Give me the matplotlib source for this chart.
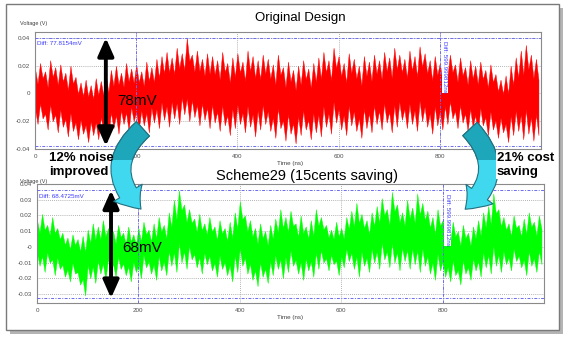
import numpy as np
import matplotlib.pyplot as plt
from matplotlib.patches import Rectangle, FancyArrowPatch

plt.rcParams['font.family'] = ['Liberation Sans', 'DejaVu Sans']

W, H = 575, 340

time_ns = np.arange(0, 1000, 10)
orig_hi = [18, 22, 16, 24, 19, 21, 15, 20, 12,
           8, 10, 6, 11, 9, 13,
           17, 20, 15, 22, 18, 21, 16, 23, 19, 25, 27,
           30, 26, 33, 29, 40, 28, 31, 25, 29,
           27, 24, 30, 22, 26, 29, 23, 31, 27, 24, 28,
           25, 21, 28, 19, 23, 17, 20, 24, 18, 22, 26,
           30, 24, 33, 27, 22, 29, 25, 20, 27, 23, 28,
           24, 30, 26, 33, 28, 25, 31, 27, 34, 29, 24, 27, 22,
           25, 28, 21, 26, 19, 24, 20, 23, 17, 21,
           14, 10, 13, 20, 26, 31, 35, 28, 25]
orig_lo = [-22, -18, -26, -20, -28, -24, -31, -27, -33,
           -29, -35, -30, -33, -27, -31,
           -25, -29, -22, -27, -20, -26, -23, -28, -21, -25, -19,
           -24, -18, -22, -15, -20, -17, -23, -19, -25,
           -21, -27, -23, -30, -25, -22, -28, -24, -31, -26, -22,
           -27, -32, -25, -34, -29, -36, -30, -26, -33, -28, -31,
           -24, -29, -21, -26, -30, -23, -27, -32, -25, -28, -22,
           -26, -21, -28, -24, -19, -25, -22, -27, -20, -24, -29, -23, -26,
           -22, -18, -25, -21, -27, -24, -29, -23, -30, -26,
           -32, -28, -35, -30, -27, -33, -29, -34, -30]
new_hi = [17, 21, 14, 19, 12, 9, 6, 8, 5,
          7, 11, 15, 13, 17, 12,
          10, 14, 9, 13, 8, 12, 16, 11, 15, 19, 14,
          22, 30, 36, 27, 24, 18, 21, 15, 19,
          13, 17, 12, 16, 22, 29, 20, 17, 12, 15, 10,
          14, 18, 24, 19, 23, 15, 20, 13, 17, 24, 19,
          14, 11, 16, 12, 19, 23, 28, 21, 17, 22, 26,
          31, 24, 35, 27, 22, 30, 25, 34, 28, 23, 19, 24, 17,
          12, 16, 10, 14, 9, 13, 17, 22, 26, 34,
          24, 19, 15, 20, 14, 18, 22, 16, 20]
new_lo = [-12, -16, -10, -18, -14, -19, -22, -17, -24,
          -31, -20, -23, -17, -21, -15,
          -19, -14, -18, -22, -16, -20, -13, -17, -21, -15, -18,
          -12, -16, -10, -14, -8, -13, -17, -11, -15,
          -19, -14, -18, -22, -16, -12, -17, -21, -25, -19, -23,
          -18, -14, -20, -16, -12, -17, -21, -15, -19, -14, -10,
          -15, -11, -18, -13, -9, -14, -19, -12, -16, -10, -14,
          -8, -13, -10, -15, -9, -14, -11, -16, -12, -17, -21, -15, -19,
          -22, -18, -24, -17, -21, -15, -19, -13, -17, -12,
          -16, -11, -15, -9, -13, -18, -12, -16, -11]

cursor_t = [200, 800]
orig_cursor_v = [0.0400, -0.0378]
new_cursor_v = [0.0359, -0.0326]
orig_yticks = [-0.04, -0.02, 0, 0.02, 0.04]
orig_yticklabels = ['-0.04', '-0.02', '0', '0.02', '0.04']
new_yticks = [-0.03, -0.02, -0.01, 0, 0.01, 0.02, 0.03, 0.04]
new_yticklabels = ['-0.03', '-0.02', '-0.01', '-0', '0.01', '0.02', '0.03', '0.04']
xticks = [0, 200, 400, 600, 800]


def px_rect(l, t, r, b):
    return [l / W, 1 - b / H, (r - l) / W, (b - t) / H]


def draw_panel(ax, hi, lo, color, ylim, yticks, yticklabels, cursor_v, diff_txt, arrow_t, amp_txt, amp_y):
    hi = np.array(hi) / 1000
    lo = np.array(lo) / 1000
    mid = (hi + lo) / 2
    half = (hi - lo) / 2
    # spiky edges: peaks at the envelope, troughs part way in
    xs = np.column_stack([time_ns, time_ns + 5]).ravel()
    top = np.column_stack([hi, mid + 0.45 * half]).ravel()
    bot = np.column_stack([mid - 0.45 * half, lo]).ravel()
    ax.fill_between(xs, bot, top, color=color, lw=0.3, edgecolor=color, zorder=2)

    ax.set_xlim(0, 1000)
    ax.set_ylim(*ylim)
    ax.set_xticks(xticks)
    ax.set_xticklabels([str(x) for x in xticks])
    ax.set_yticks(yticks)
    ax.set_yticklabels(yticklabels)
    ax.tick_params(length=0, labelsize=4.5, labelcolor='#505050', pad=3.5)
    ax.grid(True, color='#9a9a9a', ls=(0, (1, 1.5)), lw=0.6, zorder=1)
    ax.set_axisbelow(True)
    for s in ax.spines.values():
        s.set_color('#8a8a8a')
        s.set_linewidth(0.8)

    blue = '#6b6bf0'
    for t in cursor_t:
        ax.axvline(t, color=blue, ls=(0, (3, 1.5, 1, 1.5)), lw=0.7, zorder=3)
    for v in cursor_v:
        ax.axhline(v, color=blue, ls=(0, (3, 1.5, 1, 1.5)), lw=0.7, zorder=3)

    ax.text(4, cursor_v[0] - 0.002, diff_txt, fontsize=4.5, color='#3a3aff', va='top', ha='left', zorder=4)
    ax.text(cursor_t[1] + 10, cursor_v[0] - 0.002, 'Diff: 599.999812ns', fontsize=4.5, color='#3a3aff',
            rotation=-90, va='top', ha='center', zorder=4,
            bbox=dict(fc='white', ec='none', pad=0.6))

    ax.annotate('', xy=(arrow_t, cursor_v[1]), xytext=(arrow_t, cursor_v[0]),
                arrowprops=dict(arrowstyle='<|-|>,head_width=0.4,head_length=0.9', lw=2.8,
                                color='black', shrinkA=0, shrinkB=0, mutation_scale=12), zorder=5)
    ax.text(arrow_t + 22, amp_y, amp_txt, fontsize=11, ha='left', va='center', zorder=5)


fig = plt.figure(figsize=(W / 100, H / 100), dpi=100, facecolor='white')

bg = fig.add_axes([0, 0, 1, 1], zorder=0)
bg.set_xlim(0, W)
bg.set_ylim(H, 0)
bg.axis('off')
bg.add_patch(Rectangle((10, 8), 553, 326, facecolor='#b4b4b4', edgecolor='none'))
bg.add_patch(Rectangle((6, 4), 553, 326, facecolor='white', edgecolor='#7a7a7a', lw=1))

ax1 = fig.add_axes(px_rect(35, 32, 541, 149), zorder=1)
draw_panel(ax1, orig_hi, orig_lo, '#ff0000', (-0.0400, 0.0443), orig_yticks, orig_yticklabels,
           orig_cursor_v, 'Diff: 77.8154mV', 140, '78mV', -0.0055)

ax2 = fig.add_axes(px_rect(37, 184, 544, 303), zorder=1)
draw_panel(ax2, new_hi, new_lo, '#00ff00', (-0.0357, 0.0398), new_yticks, new_yticklabels,
           new_cursor_v, 'Diff: 68.4725mV', 146, '68mV', -0.0006)

ov = fig.add_axes([0, 0, 1, 1], zorder=3)
ov.set_xlim(0, W)
ov.set_ylim(H, 0)
ov.axis('off')

ov.text(300, 18, 'Original Design', fontsize=9.5, ha='center', va='center')
ov.text(307, 176, 'Scheme29 (15cents saving)', fontsize=10.5, ha='center', va='center')
ov.text(20, 24, 'Voltage (V)', fontsize=4, color='#404040', ha='left', va='center')
ov.text(20, 181, 'Voltage (V)', fontsize=4, color='#404040', ha='left', va='center')
ov.text(290, 164, 'Time (ns)', fontsize=4.5, color='#404040', ha='center', va='center')
ov.text(290, 318, 'Time (ns)', fontsize=4.5, color='#404040', ha='center', va='center')

ov.text(49, 158, '12% noise', fontsize=9.5, fontweight='bold', ha='left', va='center')
ov.text(49, 172, 'improved', fontsize=9.5, fontweight='bold', ha='left', va='center')
ov.text(497, 158, '21% cost', fontsize=9.5, fontweight='bold', ha='left', va='center',
        bbox=dict(fc='white', ec='none', pad=0.5))
ov.text(497, 172, 'saving', fontsize=9.5, fontweight='bold', ha='left', va='center',
        bbox=dict(fc='white', ec='none', pad=0.5))

# curved call-out arrows: light cyan body, darker teal on the upper half
style = 'simple,head_length=15,head_width=24,tail_width=14'
for a, b, rad in [((145, 127), (143, 211), 0.55), ((468, 127), (463, 211), -0.55)]:
    light = FancyArrowPatch(a, b, connectionstyle=f'arc3,rad={rad}', arrowstyle=style,
                            facecolor='#3fd8ef', edgecolor='#23707e', lw=0.8)
    ov.add_patch(light)
    dark = FancyArrowPatch(a, b, connectionstyle=f'arc3,rad={rad}', arrowstyle=style,
                           facecolor='#1ea6bb', edgecolor='#23707e', lw=0.8)
    ov.add_patch(dark)
    clip = Rectangle((0, 0), W, 160, transform=ov.transData)
    dark.set_clip_path(clip)

fig.savefig('out.png', dpi=100, facecolor='white')
